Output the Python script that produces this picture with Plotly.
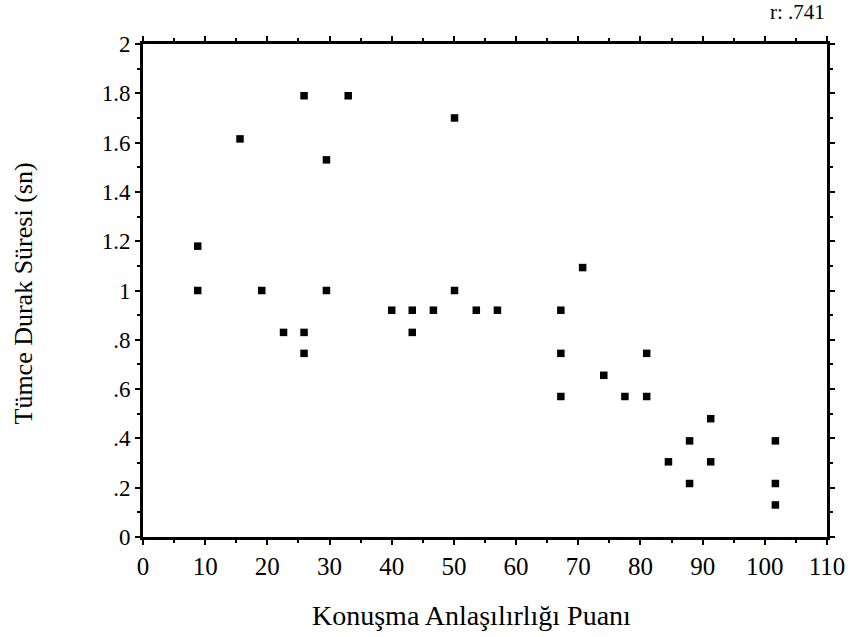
import plotly.graph_objects as go

# Data
score = [8.8, 8.8, 15.6, 19.1, 22.6, 25.9, 25.9, 25.9, 29.5, 29.5, 33.0,
         40.0, 43.3, 43.3, 46.7, 50.1, 50.1, 53.6, 57.0, 67.2, 67.2, 67.2,
         70.7, 74.1, 77.5, 81.0, 81.0, 84.5, 87.9, 87.9, 91.3, 91.3,
         101.7, 101.7, 101.7]
pause = [1.18, 1.0, 1.615, 1.0, 0.83, 1.79, 0.83, 0.745, 1.53, 1.0, 1.79,
         0.92, 0.92, 0.83, 0.92, 1.70, 1.0, 0.92, 0.92, 0.92, 0.745, 0.57,
         1.093, 0.656, 0.57, 0.745, 0.57, 0.305, 0.39, 0.217, 0.48, 0.305,
         0.39, 0.217, 0.13]

x_ticks = list(range(0, 111, 10))
y_tickvals = [0, 0.2, 0.4, 0.6, 0.8, 1.0, 1.2, 1.4, 1.6, 1.8, 2.0]
y_ticktext = ["0", ".2", ".4", ".6", ".8", "1", "1.2", "1.4", "1.6", "1.8", "2"]

x_title = "Konuşma Anlaşılırlığı Puanı"
y_title = "Tümce Durak Süresi (sn)"
r_label = "r: .741"

FONT = "Liberation Serif"

fig = go.Figure(go.Scatter(
    x=score, y=pause, mode="markers",
    marker=dict(symbol="square", size=7.5, color="black", line=dict(width=0)),
    showlegend=False,
))

fig.update_layout(
    width=848, height=637,
    margin=dict(l=143, r=21, t=44, b=100, autoexpand=False),
    paper_bgcolor="white", plot_bgcolor="white",
    font=dict(family=FONT, color="black"),
    xaxis=dict(
        range=[0, 110], tickvals=x_ticks, showgrid=False, zeroline=False,
        showline=True, linewidth=2.8, linecolor="black", mirror="allticks",
        ticks="outside", ticklen=5, tickwidth=2, tickcolor="black",
        tickfont=dict(size=25, family=FONT),
        minor=dict(dtick=5, ticks="outside", ticklen=3, tickwidth=2, tickcolor="black"),
        automargin=False,
    ),
    yaxis=dict(
        range=[0, 2], tickvals=y_tickvals, ticktext=y_ticktext,
        showgrid=False, zeroline=False,
        showline=True, linewidth=2.8, linecolor="black", mirror="allticks",
        ticks="outside", ticklen=5, tickwidth=2, tickcolor="black",
        tickfont=dict(size=23, family=FONT),
        minor=dict(dtick=0.1, ticks="outside", ticklen=3, tickwidth=2, tickcolor="black"),
        automargin=False,
    ),
    annotations=[
        dict(text=r_label, xref="paper", yref="paper", x=1.0, y=1.0,
             xanchor="right", yanchor="middle", yshift=32, showarrow=False,
             font=dict(size=21, family=FONT, color="black")),
        dict(text=x_title, xref="paper", yref="paper", x=0.5, y=0.0,
             xanchor="center", yanchor="middle", xshift=-14, yshift=-78,
             showarrow=False, font=dict(size=28, family=FONT, color="black")),
        dict(text=y_title, xref="paper", yref="paper", x=0.0, y=0.5,
             xanchor="center", yanchor="middle", xshift=-120, yshift=-3,
             textangle=-90, showarrow=False,
             font=dict(size=26, family=FONT, color="black")),
    ],
)

fig.write_html("out.html")
